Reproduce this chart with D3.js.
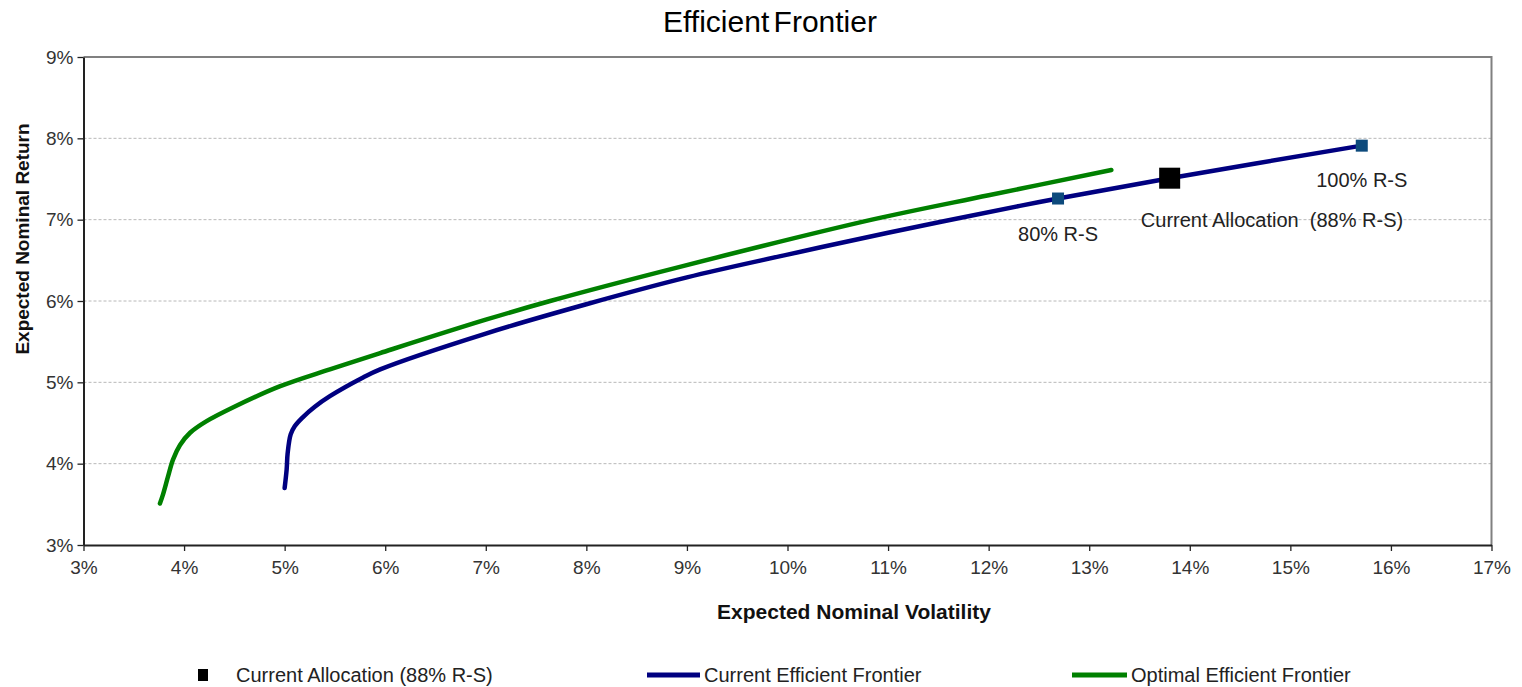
<!DOCTYPE html>
<html>
<head>
<meta charset="utf-8">
<script src="https://cdn.jsdelivr.net/npm/d3@7"></script>
<style>
  html, body { margin: 0; padding: 0; background: #fff; }
  svg { display: block; font-family: Arial, "Liberation Sans", sans-serif; }
</style>
</head>
<body>
<svg id="chart" width="1522" height="687"></svg>
<script>
// Optimal efficient frontier (volatility %, return %)
const optimalVol = [3.76, 3.79, 3.84, 3.89, 3.96, 4.06, 4.22, 4.50, 4.95, 5.45, 5.95, 7.00, 7.64, 8.93, 10.84, 12.00, 13.22];
const optimalRet = [3.51, 3.62, 3.84, 4.05, 4.23, 4.38, 4.52, 4.70, 4.95, 5.16, 5.36, 5.77, 6.00, 6.42, 7.00, 7.30, 7.61];

// Current efficient frontier (volatility %, return %)
const currentVol = [5.00, 5.02, 5.03, 5.06, 5.10, 5.18, 5.30, 5.45, 5.78, 5.95, 7.00, 8.00, 9.00, 10.00, 11.00, 12.31, 12.69, 13.80, 15.71];
const currentRet = [3.70, 3.93, 4.13, 4.36, 4.46, 4.57, 4.70, 4.83, 5.06, 5.16, 5.60, 5.96, 6.29, 6.57, 6.84, 7.17, 7.26, 7.51, 7.91];

// Labelled portfolios along the current frontier
const pointNames = ["80% R-S", "100% R-S"];
const pointVol = [12.69, 15.71];
const pointRet = [7.26, 7.91];

// Current allocation
const allocName = "Current Allocation  (88% R-S)";
const allocVol = 13.80;
const allocRet = 7.51;

// Axis ticks
const xTicks = [3, 4, 5, 6, 7, 8, 9, 10, 11, 12, 13, 14, 15, 16, 17];
const yTicks = [3, 4, 5, 6, 7, 8, 9];

const svg = d3.select("#chart");
const plotLeft = 83.5, plotRight = 1491.5, plotTop = 57, plotBottom = 545;

const x = d3.scaleLinear().domain([3, 17]).range([plotLeft, plotRight]);
const y = d3.scaleLinear().domain([3, 9]).range([plotBottom, plotTop]);

// Title
svg.append("text")
  .attr("x", 770).attr("y", 32)
  .attr("text-anchor", "middle")
  .attr("font-size", 30)
  .attr("word-spacing", -4)
  .attr("fill", "#000")
  .text("Efficient Frontier");

// Horizontal gridlines
svg.append("g")
  .selectAll("line")
  .data(yTicks.filter(d => d > 3 && d < 9))
  .join("line")
  .attr("x1", plotLeft).attr("x2", plotRight)
  .attr("y1", d => y(d)).attr("y2", d => y(d))
  .attr("stroke", "#b8b8b8")
  .attr("stroke-width", 1)
  .attr("stroke-dasharray", "3,2");

// Top and right frame
svg.append("path")
  .attr("d", `M${plotLeft},${plotTop}H${plotRight}V${plotBottom}`)
  .attr("fill", "none")
  .attr("stroke", "#808080")
  .attr("stroke-width", 2);

// Axes
const xAxis = d3.axisBottom(x).tickValues(xTicks).tickFormat(d => d + "%").tickSizeOuter(0).tickSizeInner(6).tickPadding(7);
const yAxis = d3.axisLeft(y).tickValues(yTicks).tickFormat(d => d + "%").tickSizeOuter(0).tickSizeInner(6).tickPadding(4);

const gx = svg.append("g").attr("transform", `translate(0,${plotBottom})`).call(xAxis);
const gy = svg.append("g").attr("transform", `translate(${plotLeft},0)`).call(yAxis);

[gx, gy].forEach(g => {
  g.select(".domain").attr("stroke", "#222").attr("stroke-width", 2);
  g.selectAll(".tick line").attr("stroke", "#222").attr("stroke-width", 1.3);
  g.selectAll(".tick text")
    .attr("font-size", 19)
    .attr("font-family", "Arial, 'Liberation Sans', sans-serif")
    .attr("fill", "#333");
});
gx.selectAll(".tick text").attr("dy", "0.85em");

// Axis titles
svg.append("text")
  .attr("x", 854).attr("y", 619)
  .attr("text-anchor", "middle")
  .attr("font-size", 21)
  .attr("font-weight", "bold")
  .attr("fill", "#111")
  .text("Expected Nominal Volatility");

svg.append("text")
  .attr("transform", "translate(29,239) rotate(-90)")
  .attr("text-anchor", "middle")
  .attr("font-size", 19)
  .attr("font-weight", "bold")
  .attr("fill", "#111")
  .text("Expected Nominal Return");

// Frontier lines
const line = d3.line()
  .x(d => x(d[0]))
  .y(d => y(d[1]))
  .curve(d3.curveCatmullRom.alpha(0.5));

svg.append("path")
  .datum(optimalVol.map((v, i) => [v, optimalRet[i]]))
  .attr("d", line)
  .attr("fill", "none")
  .attr("stroke", "#008000")
  .attr("stroke-width", 4.5)
  .attr("stroke-linecap", "round");

svg.append("path")
  .datum(currentVol.map((v, i) => [v, currentRet[i]]))
  .attr("d", line)
  .attr("fill", "none")
  .attr("stroke", "#000080")
  .attr("stroke-width", 4.5)
  .attr("stroke-linecap", "round");

// Labelled portfolio markers
const ps = 12;
svg.append("g")
  .selectAll("rect")
  .data(pointVol.map((v, i) => ({ v, r: pointRet[i], name: pointNames[i] })))
  .join("rect")
  .attr("x", d => x(d.v) - ps / 2)
  .attr("y", d => y(d.r) - ps / 2)
  .attr("width", ps).attr("height", ps)
  .attr("fill", "#0d4a7c");

// Current allocation marker
const as = 21;
svg.append("rect")
  .attr("x", x(allocVol) - as / 2)
  .attr("y", y(allocRet) - as / 2)
  .attr("width", as).attr("height", as)
  .attr("fill", "#000");

// Point labels
const labelFont = 20;
svg.append("text")
  .attr("x", x(pointVol[0])).attr("y", y(pointRet[0]) + 42)
  .attr("text-anchor", "middle")
  .attr("font-size", labelFont).attr("fill", "#222")
  .text(pointNames[0]);

svg.append("text")
  .attr("x", x(pointVol[1])).attr("y", y(pointRet[1]) + 41)
  .attr("text-anchor", "middle")
  .attr("font-size", labelFont).attr("fill", "#222")
  .text(pointNames[1]);

svg.append("text")
  .attr("x", 1272).attr("y", y(allocRet) + 49)
  .attr("text-anchor", "middle")
  .attr("font-size", labelFont).attr("fill", "#222")
  .attr("xml:space", "preserve")
  .style("white-space", "pre")
  .text(allocName);

// Legend
const legY = 675;
const legend = svg.append("g").attr("font-size", 20).attr("fill", "#222");

legend.append("rect")
  .attr("x", 198).attr("y", legY - 6)
  .attr("width", 10).attr("height", 12)
  .attr("fill", "#000");
legend.append("text")
  .attr("x", 236).attr("y", legY + 7)
  .text("Current Allocation (88% R-S)");

legend.append("line")
  .attr("x1", 647).attr("x2", 700)
  .attr("y1", legY).attr("y2", legY)
  .attr("stroke", "#000080").attr("stroke-width", 5);
legend.append("text")
  .attr("x", 704).attr("y", legY + 7)
  .text("Current Efficient Frontier");

legend.append("line")
  .attr("x1", 1072).attr("x2", 1127)
  .attr("y1", legY).attr("y2", legY)
  .attr("stroke", "#008000").attr("stroke-width", 5);
legend.append("text")
  .attr("x", 1131).attr("y", legY + 7)
  .text("Optimal Efficient Frontier");
</script>
</body>
</html>
